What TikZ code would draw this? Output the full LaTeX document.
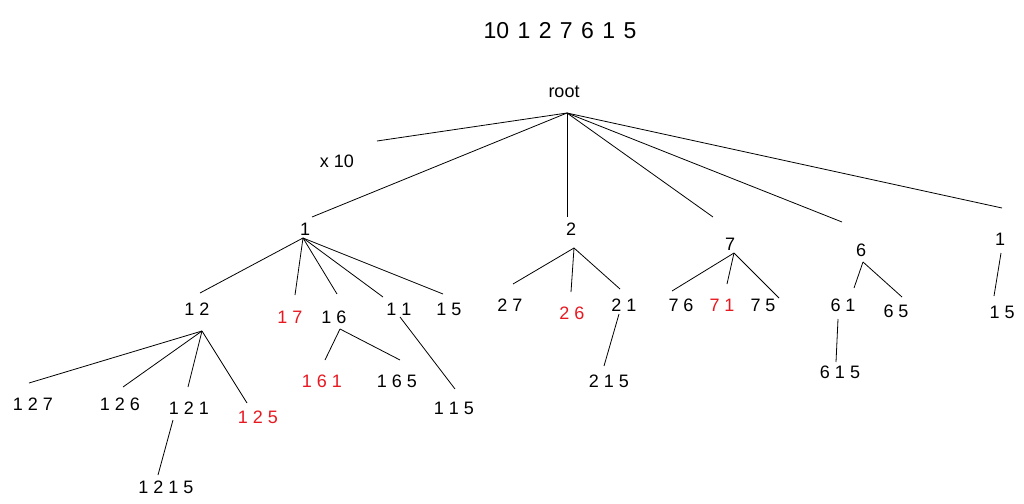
\documentclass[tikz,border=0pt]{standalone}
\usepackage{fontspec}
\setmainfont{Liberation Sans}
\definecolor{hit}{RGB}{232,24,32}

\begin{document}
\begin{tikzpicture}[x=1pt, y=-1pt,
lbl/.style={inner sep=0pt, font=\fontsize{18}{18}\selectfont},
hitlbl/.style={lbl, text=hit},
edge/.style={line width=0.8pt}]
\useasboundingbox (0,0) rectangle (1024,503);
% labels
\node[inner sep=0pt, font=\fontsize{23}{23}\selectfont] (seq) at (560,31) {10\hspace{2pt} 1\hspace{2pt} 2\hspace{2pt} 7\hspace{2pt} 6\hspace{2pt} 1\hspace{2pt} 5};
\node[lbl] (root) at (564,92) {root};
\node[lbl] (x10) at (337,161) {x 10};
\node[lbl] (n1) at (305,229) {1};
\node[lbl] (n2) at (571,229) {2};
\node[lbl] (n7) at (730,244) {7};
\node[lbl] (n6) at (861,250) {6};
\node[lbl] (n1r) at (1000,239) {1};
\node[lbl] (n12) at (197,309) {1 2};
\node[hitlbl] (n17) at (290,317) {1 7};
\node[lbl] (n16) at (334,317) {1 6};
\node[lbl] (n11) at (399,309) {1 1};
\node[lbl] (n15) at (449,309) {1 5};
\node[lbl] (n127) at (33,404) {1 2 7};
\node[lbl] (n126) at (120,404) {1 2 6};
\node[lbl] (n121) at (189,408) {1 2 1};
\node[hitlbl] (n125) at (258,417) {1 2 5};
\node[lbl] (n1215) at (166,487) {1 2 1 5};
\node[hitlbl] (n161) at (322,381) {1 6 1};
\node[lbl] (n165) at (397,381) {1 6 5};
\node[lbl] (n115) at (454,408) {1 1 5};
\node[lbl] (n27) at (510,305) {2 7};
\node[hitlbl] (n26) at (572,313) {2 6};
\node[lbl] (n21) at (624,305) {2 1};
\node[lbl] (n215) at (609,381) {2 1 5};
\node[lbl] (n76) at (681,305) {7 6};
\node[hitlbl] (n71) at (722,305) {7 1};
\node[lbl] (n75) at (763,305) {7 5};
\node[lbl] (n61) at (843,305) {6 1};
\node[lbl] (n65) at (896,311) {6 5};
\node[lbl] (n615) at (840,372) {6 1 5};
\node[lbl] (n15r) at (1002,312) {1 5};
% where the branches start
\coordinate (aroot) at (567,113);
\coordinate (a1) at (303,238);
\coordinate (a12) at (202,331);
\coordinate (a121) at (173,420);
\coordinate (a16) at (340,329);
\coordinate (a11) at (400,317);
\coordinate (a2) at (574,248);
\coordinate (a21) at (619,314);
\coordinate (a7) at (734,253);
\coordinate (a6) at (863,262);
\coordinate (a61) at (838,319);
\coordinate (a1r) at (1001,253);
% where they stop
\coordinate (ex10) at (377,141);
\coordinate (e1) at (312,217);
\coordinate (e2) at (567,217);
\coordinate (e7) at (713,217);
\coordinate (e6) at (842,222);
\coordinate (e1r) at (1002,208);
\coordinate (e12) at (200,293);
\coordinate (e17) at (295,295);
\coordinate (e16) at (337,294);
\coordinate (e11) at (383,297);
\coordinate (e15) at (443,294);
\coordinate (e127) at (29,383);
\coordinate (e126) at (123,387);
\coordinate (e121) at (188,387);
\coordinate (e125) at (247,403);
\coordinate (e1215) at (158,475);
\coordinate (e161) at (325,360);
\coordinate (e165) at (400,360);
\coordinate (e115) at (455,389);
\coordinate (e27) at (513,284);
\coordinate (e26) at (571,292);
\coordinate (e21) at (620,289);
\coordinate (e215) at (604,366);
\coordinate (e76) at (672,291);
\coordinate (e71) at (727,284);
\coordinate (e75) at (779,298);
\coordinate (e61) at (854,288);
\coordinate (e65) at (902,297);
\coordinate (e615) at (836,362);
\coordinate (e15r) at (994,296);
% branches
\draw[edge] (aroot) -- (ex10);
\draw[edge] (aroot) -- (e1);
\draw[edge] (aroot) -- (e2);
\draw[edge] (aroot) -- (e7);
\draw[edge] (aroot) -- (e6);
\draw[edge] (aroot) -- (e1r);
\draw[edge] (a1) -- (e12);
\draw[edge] (a1) -- (e17);
\draw[edge] (a1) -- (e16);
\draw[edge] (a1) -- (e11);
\draw[edge] (a1) -- (e15);
\draw[edge] (a12) -- (e127);
\draw[edge] (a12) -- (e126);
\draw[edge] (a12) -- (e121);
\draw[edge] (a12) -- (e125);
\draw[edge] (a121) -- (e1215);
\draw[edge] (a16) -- (e161);
\draw[edge] (a16) -- (e165);
\draw[edge] (a11) -- (e115);
\draw[edge] (a2) -- (e27);
\draw[edge] (a2) -- (e26);
\draw[edge] (a2) -- (e21);
\draw[edge] (a21) -- (e215);
\draw[edge] (a7) -- (e76);
\draw[edge] (a7) -- (e71);
\draw[edge] (a7) -- (e75);
\draw[edge] (a6) -- (e61);
\draw[edge] (a6) -- (e65);
\draw[edge] (a61) -- (e615);
\draw[edge] (a1r) -- (e15r);
\end{tikzpicture}
\end{document}
